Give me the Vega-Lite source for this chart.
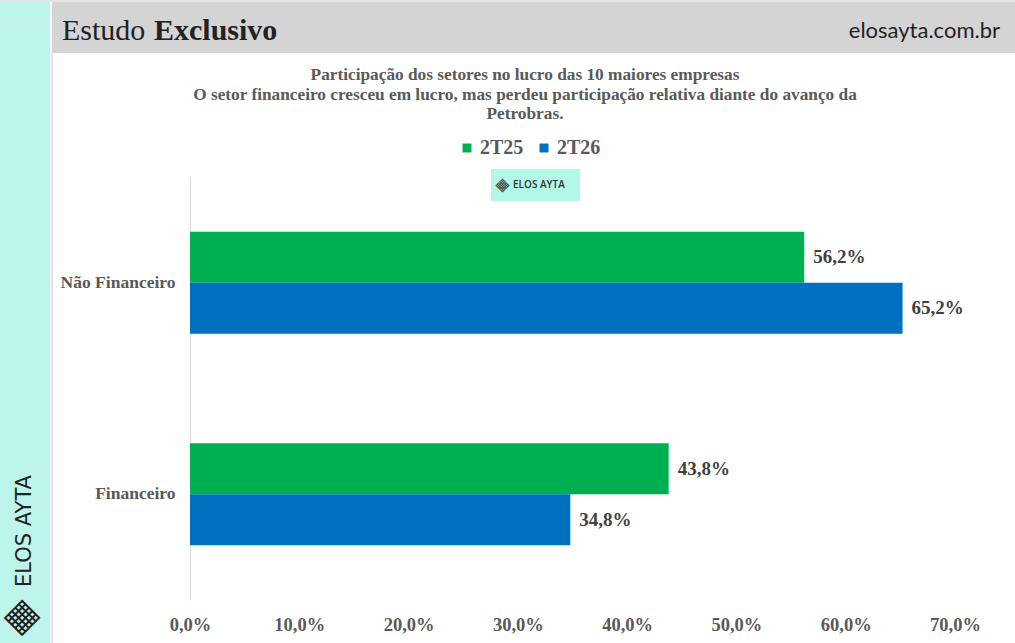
{
  "$schema": "https://vega.github.io/schema/vega-lite/v6.json",
  "description": "Participação dos setores no lucro das 10 maiores empresas, 2T25 vs 2T26.",
  "autosize": {"type": "none"},
  "padding": {"left": 190, "top": 177, "right": 60, "bottom": 43},
  "width": 765,
  "height": 423,
  "background": "white",
  "config": {
    "locale": {"number": {"decimal": ",", "thousands": ".", "grouping": [3], "currency": ["R$", ""]}},
    "view": {"stroke": null}
  },
  "layer": [
    {
      "data": {"values": [{}]},
      "mark": {"type": "rect", "fill": "#e4e4e4"},
      "encoding": {"x": {"value": -190}, "x2": {"value": 825}, "y": {"value": -177}, "y2": {"value": -175}}
    },
    {
      "data": {"values": [{}]},
      "mark": {"type": "rect", "fill": "#bdf5ec"},
      "encoding": {"x": {"value": -190}, "x2": {"value": -140}, "y": {"value": -175}, "y2": {"value": 466}}
    },
    {
      "data": {"values": [{}]},
      "mark": {"type": "rect", "fill": "#d4d4d4"},
      "encoding": {"x": {"value": -138}, "x2": {"value": 825}, "y": {"value": -175}, "y2": {"value": -124}}
    },
    {
      "data": {"values": [{}]},
      "mark": {"type": "rule", "stroke": "#dadada", "strokeWidth": 1.5},
      "encoding": {"x": {"value": -138}, "y": {"value": -124}, "y2": {"value": 466}}
    },
    {
      "data": {"values": [{}]},
      "mark": {"type": "text", "font": "Liberation Serif", "fontSize": 30, "color": "#222222", "align": "left", "baseline": "alphabetic"},
      "encoding": {"x": {"value": -128}, "y": {"value": -137}, "text": {"value": "Estudo"}}
    },
    {
      "data": {"values": [{}]},
      "mark": {"type": "text", "font": "Liberation Serif", "fontSize": 30, "fontWeight": "bold", "color": "#222222", "align": "left", "baseline": "alphabetic"},
      "encoding": {"x": {"value": -36}, "y": {"value": -137}, "text": {"value": "Exclusivo"}}
    },
    {
      "data": {"values": [{}]},
      "mark": {"type": "text", "font": "Lato", "fontSize": 22, "color": "#222222", "align": "right", "baseline": "alphabetic"},
      "encoding": {"x": {"value": 810}, "y": {"value": -139}, "text": {"value": "elosayta.com.br"}}
    },
    {
      "data": {"values": [{}]},
      "mark": {"type": "text", "font": "Liberation Serif", "fontSize": 17.3, "fontWeight": "bold", "color": "#595959", "align": "center", "baseline": "alphabetic", "lineHeight": 19.5},
      "encoding": {
        "x": {"value": 335},
        "y": {"value": -97},
        "text": {"value": ["Participação dos setores no lucro das 10 maiores empresas", "O setor financeiro cresceu em lucro, mas perdeu participação relativa diante do avanço da", "Petrobras."]}
      }
    },
    {
      "data": {"values": [{}]},
      "mark": {"type": "text", "font": "DejaVu Sans", "fontSize": 21, "color": "#222222", "align": "center", "baseline": "middle", "angle": 270},
      "encoding": {"x": {"value": -165}, "y": {"value": 354}, "text": {"value": "ELOS AYTA"}}
    },
    {
      "data": {"values": [{}]},
      "mark": {"type": "text", "font": "DejaVu Sans", "fontSize": 34, "color": "#222222", "align": "center", "baseline": "middle", "angle": 45},
      "encoding": {"x": {"value": -167}, "y": {"value": 440}, "text": {"value": "▦"}}
    },
    {
      "data": {"values": [{}]},
      "mark": {"type": "rect", "fill": "#b3f7e8"},
      "encoding": {"x": {"value": 301}, "x2": {"value": 390}, "y": {"value": -8}, "y2": {"value": 24}}
    },
    {
      "data": {"values": [{}]},
      "mark": {"type": "text", "font": "DejaVu Sans", "fontSize": 13, "color": "#333333", "align": "center", "baseline": "middle", "angle": 45},
      "encoding": {"x": {"value": 313}, "y": {"value": 8}, "text": {"value": "▦"}}
    },
    {
      "data": {"values": [{}]},
      "mark": {"type": "text", "font": "Open Sans", "fontSize": 10, "fontWeight": 600, "color": "#333333", "align": "left", "baseline": "middle"},
      "encoding": {"x": {"value": 323}, "y": {"value": 8}, "text": {"value": "ELOS AYTA"}}
    },
    {
      "data": {
        "values": [
          {"setor": "Não Financeiro", "periodo": "2T25", "valor": 0.562},
          {"setor": "Não Financeiro", "periodo": "2T26", "valor": 0.652},
          {"setor": "Financeiro", "periodo": "2T25", "valor": 0.438},
          {"setor": "Financeiro", "periodo": "2T26", "valor": 0.348}
        ]
      },
      "encoding": {
        "y": {
          "field": "setor",
          "type": "nominal",
          "sort": ["Não Financeiro", "Financeiro"],
          "scale": {"paddingInner": 0.518, "paddingOuter": 0.259},
          "axis": {
            "title": null,
            "ticks": false,
            "domain": true,
            "domainColor": "#d9d9d9",
            "labelFont": "Liberation Serif",
            "labelFontSize": 17.5,
            "labelFontWeight": "bold",
            "labelColor": "#595959",
            "labelPadding": 15
          }
        },
        "yOffset": {
          "field": "periodo",
          "type": "nominal",
          "sort": ["2T25", "2T26"],
          "scale": {"paddingInner": 0}
        },
        "x": {
          "field": "valor",
          "type": "quantitative",
          "scale": {"domain": [0, 0.7]},
          "axis": {
            "title": null,
            "values": [0, 0.1, 0.2, 0.3, 0.4, 0.5, 0.6, 0.7],
            "format": ".1%",
            "grid": false,
            "ticks": false,
            "domain": false,
            "labelFlush": false,
            "labelFont": "Liberation Serif",
            "labelFontSize": 18.5,
            "labelFontWeight": "bold",
            "labelColor": "#595959",
            "labelPadding": 15
          }
        }
      },
      "layer": [
        {
          "mark": {"type": "bar"},
          "encoding": {
            "color": {
              "field": "periodo",
              "type": "nominal",
              "scale": {"domain": ["2T25", "2T26"], "range": ["#00b050", "#0070c0"]},
              "legend": {
                "title": null,
                "orient": "none",
                "direction": "horizontal",
                "legendX": 267,
                "legendY": -39,
                "symbolType": "square",
                "symbolSize": 80,
                "symbolStrokeWidth": 0,
                "labelFont": "Liberation Serif",
                "labelFontSize": 20,
                "labelFontWeight": "bold",
                "labelColor": "#595959",
                "labelOffset": 3,
                "columnPadding": 10
              }
            }
          }
        },
        {
          "mark": {"type": "text", "align": "left", "baseline": "middle", "dx": 9, "font": "Liberation Serif", "fontSize": 19, "fontWeight": "bold", "color": "#404040"},
          "encoding": {
            "text": {"field": "valor", "type": "quantitative", "format": ".1%"}
          }
        }
      ]
    }
  ]
}
